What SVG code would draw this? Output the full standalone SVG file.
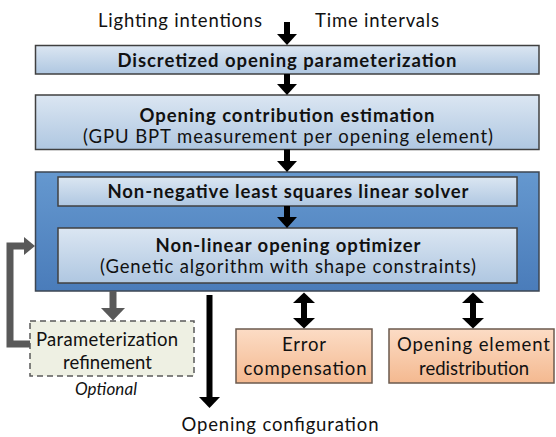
<svg xmlns="http://www.w3.org/2000/svg" width="556" height="437" viewBox="0 0 556 437">
  <defs>
    <linearGradient id="gBlueLight" x1="0" y1="0" x2="0" y2="1">
      <stop offset="0" stop-color="#dbe6f2"/>
      <stop offset="1" stop-color="#afc7e1"/>
    </linearGradient>
    <linearGradient id="gBlueDark" x1="0" y1="0" x2="0" y2="1">
      <stop offset="0" stop-color="#6598cf"/>
      <stop offset="1" stop-color="#4a7cba"/>
    </linearGradient>
    <linearGradient id="gOrange" x1="0" y1="0" x2="0" y2="1">
      <stop offset="0" stop-color="#fcdcc5"/>
      <stop offset="1" stop-color="#f4b990"/>
    </linearGradient>
  </defs>
  <style>
    text { font-family: Lato, "Liberation Sans", sans-serif; font-size: 18.5px; fill: #111; text-anchor: middle; }
    .b { font-weight: bold; }
    .i { font-style: italic; font-size: 17px; }
    .light { fill: url(#gBlueLight); stroke: #404040; stroke-width: 1.5; }
    .dark { fill: url(#gBlueDark); stroke: #3d4652; stroke-width: 1.5; }
    .orange { fill: url(#gOrange); stroke: #6b5a4e; stroke-width: 1.5; }
    .dashed { fill: #eef0e3; stroke: #5a5a5a; stroke-width: 1.5; stroke-dasharray: 6 4; }
    .shaft { fill: none; stroke: #000; stroke-width: 6; }
    .gray { fill: none; stroke: #595959; stroke-width: 7; }
    .head { fill: #000; }
    .headGray { fill: #595959; }
  </style>

  <!-- inputs -->
  <g id="inputs">
    <text x="180" y="26.5" textLength="164">Lighting intentions</text>
    <text x="377" y="26.5" textLength="124">Time intervals</text>
  </g>

  <g id="discretized">
    <rect class="light" x="35.5" y="45.5" width="503.5" height="28.5"/>
    <text class="b" x="287" y="66.5" textLength="339">Discretized opening parameterization</text>
  </g>

  <g id="contribution">
    <rect class="light" x="35.5" y="95" width="503.5" height="54.5"/>
    <text class="b" x="287" y="121.5" textLength="295">Opening contribution estimation</text>
    <text x="288" y="142.5" textLength="410">(GPU BPT measurement per opening element)</text>
  </g>

  <g id="optimizer-block">
    <rect class="dark" x="35.5" y="172" width="503.5" height="119"/>
    <g id="nnls">
      <rect class="light" x="58" y="177" width="459" height="29"/>
      <text class="b" x="288" y="198" textLength="361">Non-negative least squares linear solver</text>
    </g>
    <g id="nonlinear">
      <rect class="light" x="58" y="228" width="459" height="55"/>
      <text class="b" x="288" y="251.5" textLength="265">Non-linear opening optimizer</text>
      <text x="288" y="273" textLength="376">(Genetic algorithm with shape constraints)</text>
    </g>
  </g>

  <g id="refinement">
    <rect class="dashed" x="30" y="321" width="164" height="55"/>
    <text x="107" y="345.5" textLength="142">Parameterization</text>
    <text x="107.5" y="368.5" textLength="89">refinement</text>
    <text class="i" x="106" y="394.5" textLength="62">Optional</text>
  </g>

  <g id="error">
    <rect class="orange" x="236" y="329" width="136" height="54"/>
    <text x="304" y="350.5" textLength="44">Error</text>
    <text x="305" y="374.5" textLength="123">compensation</text>
  </g>

  <g id="redistribution">
    <rect class="orange" x="389" y="329" width="165" height="54"/>
    <text x="473.5" y="350.5" textLength="153">Opening element</text>
    <text x="474" y="374.5" textLength="110">redistribution</text>
  </g>

  <g id="output">
    <text x="280" y="430.5" textLength="197">Opening configuration</text>
  </g>

  <!-- connectors -->
  <g id="connectors">
    <!-- main downward flow -->
    <line class="shaft" x1="287" y1="22" x2="287" y2="34"/>
    <path class="head" d="M277,34 L297,34 L287,45 Z"/>
    <line class="shaft" x1="287" y1="74" x2="287" y2="84"/>
    <path class="head" d="M277,84 L297,84 L287,95 Z"/>
    <line class="shaft" x1="287" y1="149.5" x2="287" y2="161"/>
    <path class="head" d="M277,161 L297,161 L287,172 Z"/>
    <line class="shaft" x1="287" y1="206" x2="287" y2="217"/>
    <path class="head" d="M277,217 L297,217 L287,228 Z"/>

    <!-- result -->
    <line class="shaft" x1="209.5" y1="295" x2="209.5" y2="398"/>
    <path class="head" d="M199,397 L220,397 L209.5,408 Z"/>

    <!-- two-way links to the helper steps -->
    <line class="shaft" x1="304" y1="302" x2="304" y2="320"/>
    <path class="head" d="M293,303 L315,303 L304,292.5 Z"/>
    <path class="head" d="M293,318 L315,318 L304,328.5 Z"/>
    <line class="shaft" x1="473" y1="302" x2="473" y2="320"/>
    <path class="head" d="M462,303 L484,303 L473,292.5 Z"/>
    <path class="head" d="M462,318 L484,318 L473,328.5 Z"/>

    <!-- optional refinement loop -->
    <line class="gray" x1="113" y1="291" x2="113" y2="309"/>
    <path class="headGray" d="M101,308 L125,308 L113,320.5 Z"/>
    <polyline class="gray" points="30,344 10,344 10,246 25,246"/>
    <path class="headGray" d="M24,237 L24,255 L35,246 Z"/>
  </g>
</svg>
